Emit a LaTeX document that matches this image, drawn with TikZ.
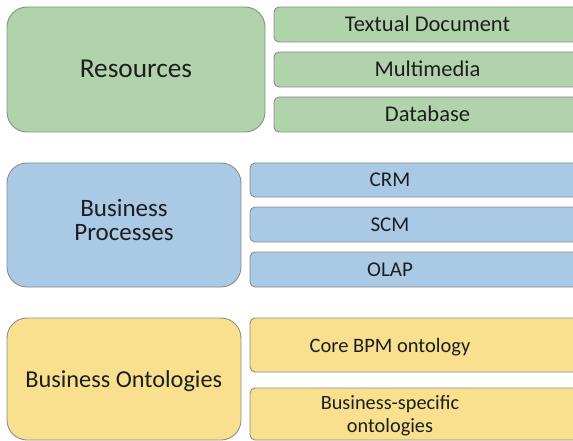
\documentclass[tikz,border=0pt]{standalone}
\usepackage{fontspec}
\setmainfont{Carlito}
\definecolor{greenfill}{RGB}{177,211,171}
\definecolor{bluefill}{RGB}{169,201,228}
\definecolor{yellowfill}{RGB}{248,224,143}
\definecolor{bordergray}{RGB}{140,140,140}
\definecolor{txt}{RGB}{30,30,30}
\begin{document}
\begin{tikzpicture}[x=1pt,y=-1pt,
  box/.style={draw=bordergray, line width=0.9pt, inner sep=0pt, outer sep=0pt},
  bigbox/.style={box, rounded corners=20pt},
  smallbox/.style={box, rounded corners=5pt},
  bigtxt/.style={text=txt, inner sep=0pt, font=\fontsize{25}{24.3}\selectfont, align=center},
  smalltxt/.style={text=txt, inner sep=0pt, font=\fontsize{21}{22.7}\selectfont, align=center}]
\useasboundingbox (0,0) rectangle (573,441);
\clip (0,0) rectangle (573,441);
% Resources group
\node[bigbox, fill=greenfill, minimum width=258pt, minimum height=125pt] (res) at (136,69.5) {};
\node[bigtxt, font=\fontsize{27.3}{28}\selectfont, anchor=base] (restxt) at (136,77.3) {Resources};
\node[smallbox, fill=greenfill, minimum width=316pt, minimum height=35pt] (td) at (432,24.5) {};
\node[smalltxt, font=\fontsize{22.5}{24}\selectfont, anchor=base] (tdtxt) at (427.5,31.7) {Textual Document};
\node[smallbox, fill=greenfill, minimum width=316pt, minimum height=35pt] (mm) at (432,69.5) {};
\node[smalltxt, font=\fontsize{22.5}{24}\selectfont, anchor=base] (mmtxt) at (427.5,76.7) {Multimedia};
\node[smallbox, fill=greenfill, minimum width=316pt, minimum height=35pt] (db) at (432,114.5) {};
\node[smalltxt, font=\fontsize{22.5}{24}\selectfont, anchor=base] (dbtxt) at (427.5,121.7) {Database};
% Business Processes group
\node[bigbox, fill=bluefill, minimum width=234pt, minimum height=124pt] (bp) at (124,225) {};
\node[bigtxt] (bptxt) at (124,220) {Business\\Processes};
\node[smallbox, fill=bluefill, minimum width=340pt, minimum height=34pt] (crm) at (420,180) {};
\node[smalltxt, anchor=base] (crmtxt) at (390,186.9) {CRM};
\node[smallbox, fill=bluefill, minimum width=340pt, minimum height=35pt] (scm) at (420,224.5) {};
\node[smalltxt, anchor=base] (scmtxt) at (390,231.6) {SCM};
\node[smallbox, fill=bluefill, minimum width=340pt, minimum height=35pt] (olap) at (420,269.5) {};
\node[smalltxt, anchor=base] (olaptxt) at (390,276.6) {OLAP};
% Business Ontologies group
\node[bigbox, fill=yellowfill, minimum width=234pt, minimum height=122pt] (bo) at (124,379) {};
\node[bigtxt, font=\fontsize{24.3}{25}\selectfont, anchor=base] (botxt) at (123.8,387.3) {Business Ontologies};
\node[smallbox, fill=yellowfill, minimum width=340pt, minimum height=54pt] (core) at (420,345) {};
\node[smalltxt, font=\fontsize{20.5}{22}\selectfont, anchor=base] (coretxt) at (390,352.3) {Core BPM ontology};
\node[smallbox, fill=yellowfill, minimum width=340pt, minimum height=52pt] (bs) at (420,414) {};
\node[smalltxt, font=\fontsize{20.3}{22.7}\selectfont] (bstxt) at (390,416) {Business-specific\\ontologies};
\end{tikzpicture}
\end{document}
